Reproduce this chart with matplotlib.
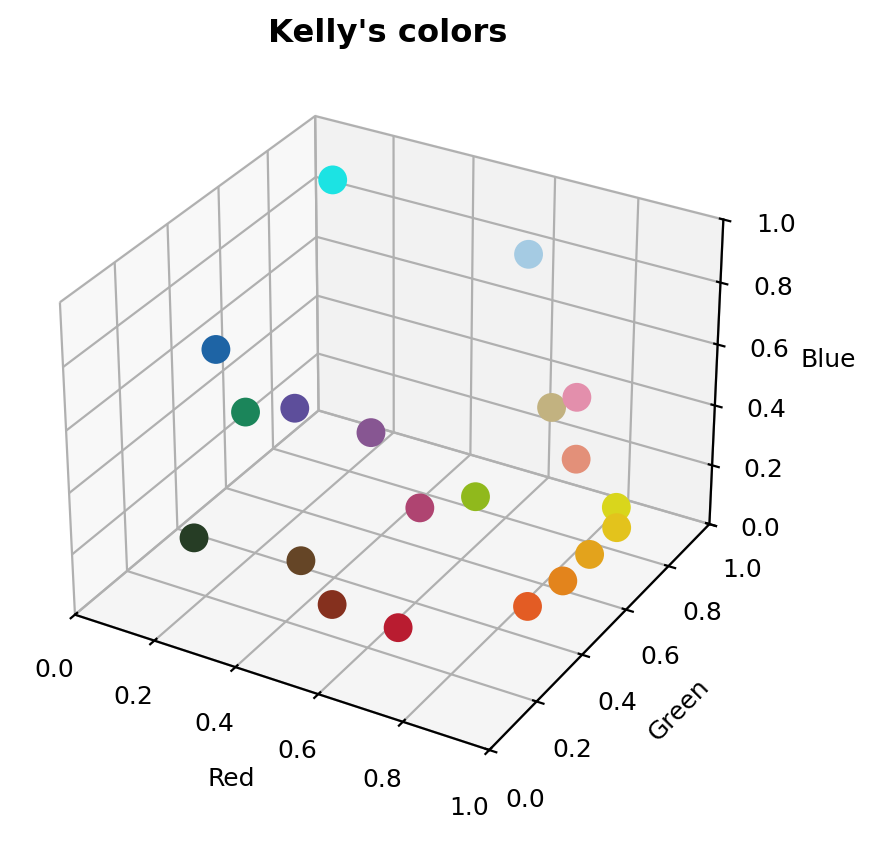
import matplotlib
matplotlib.use("Agg")
import matplotlib.pyplot as plt
from matplotlib.colors import to_rgb

# Kelly's colors (as drawn; each point sits at its own RGB coordinates)
color_hex = [
    "#E3C31C", "#875692", "#E3841C", "#A5CBE3", "#B91C30",
    "#C2B280", "#1B855A", "#E38FAC", "#1E64A5", "#E39079",
    "#5D4E9B", "#E3A31C", "#AF4471", "#D9D61C", "#85301E",
    "#90B91C", "#654526", "#E35C24", "#263D25", "#1CE3E3",
]

rgb = [to_rgb(c) for c in color_hex]
red = [c[0] for c in rgb]
green = [c[1] for c in rgb]
blue = [c[2] for c in rgb]

ticks = [0.0, 0.2, 0.4, 0.6, 0.8, 1.0]

DPI = 200
fig = plt.figure(figsize=(875 / DPI, 842 / DPI), dpi=DPI)
ax = fig.add_axes([0.022, 0.047, 0.843, 0.89], projection="3d")
ax.scatter(red, green, blue, c=color_hex, s=88, depthshade=False, alpha=1)
ax.set_xlim(0, 1)
ax.set_ylim(0, 1)
ax.set_zlim(0, 1)
ax.set_xticks(ticks)
ax.set_yticks(ticks)
ax.set_zticks(ticks)
ax.tick_params(labelsize=9)
ax.set_xlabel("Red", fontsize=9)
ax.set_ylabel("Green", fontsize=9)
ax.set_zlabel("Blue", fontsize=9)
ax.set_title("Kelly's colors", fontsize=11.6, fontweight="bold", pad=6)
fig.savefig("out.png", dpi=DPI)
